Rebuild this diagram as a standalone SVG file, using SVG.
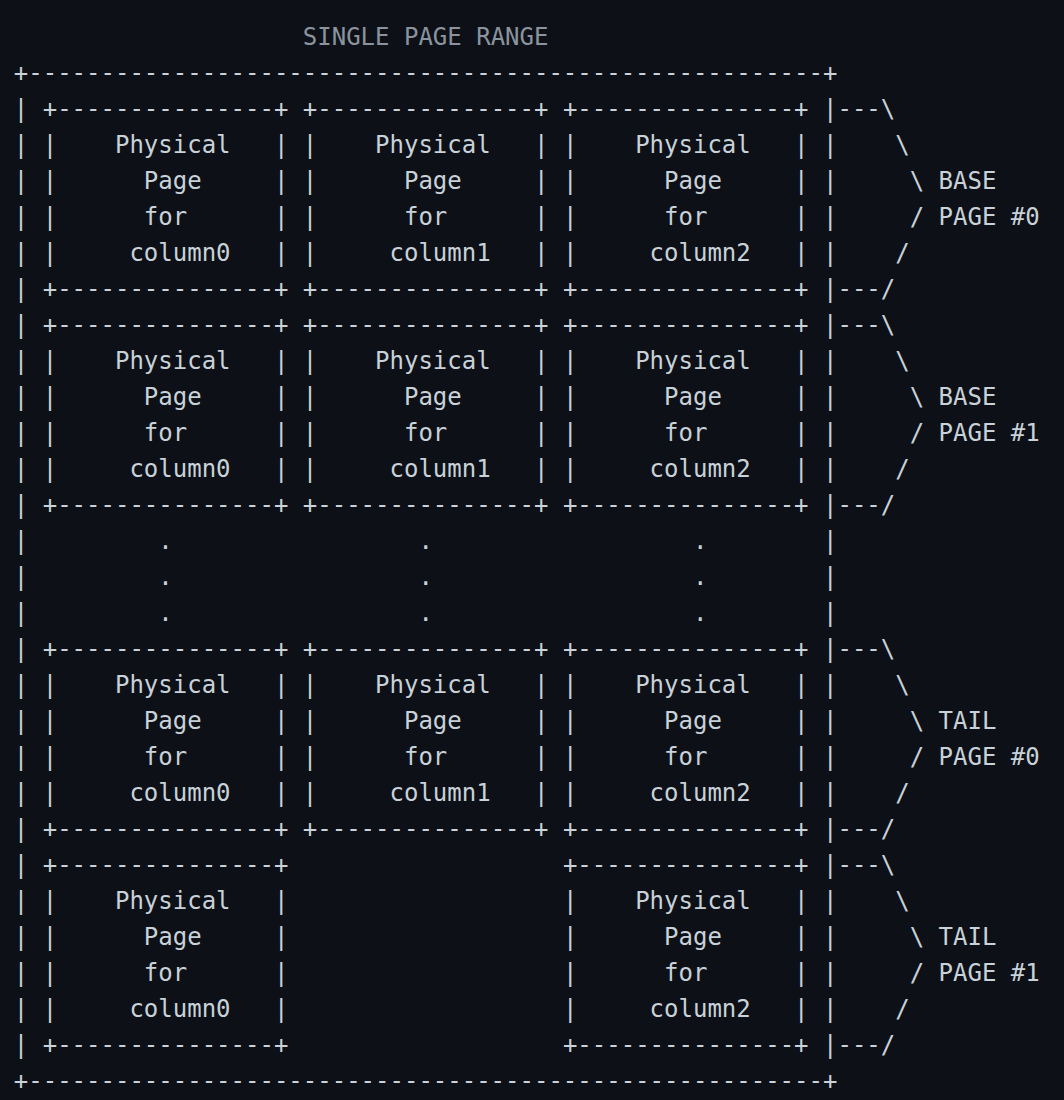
<svg xmlns="http://www.w3.org/2000/svg" width="1064" height="1100" viewBox="0 0 1064 1100" xml:space="preserve">
<style>
.t{font-family:"DejaVu Sans Mono","Liberation Mono",monospace;font-size:24px;fill:#c9d1d9;white-space:pre}
.title{fill:#8b949e}
</style>
<defs>
<g id="boxframe"><text class="t"><tspan x="0" y="0">+---------------+</tspan><tspan x="0" y="180">+---------------+</tspan></text></g>
</defs>
<rect width="1064" height="1100" fill="#0d1117"/>
<g id="diagram" transform="translate(0,1.5)">
<g id="title"><text class="t title" x="302.8" y="43">SINGLE PAGE RANGE</text></g>
<g id="range-frame"><text class="t"><tspan x="13.8" y="79">+-------------------------------------------------------+</tspan><tspan x="13.8" y="1087">+-------------------------------------------------------+</tspan><tspan x="13.8" y="115">|</tspan><tspan x="13.8" y="151">|</tspan><tspan x="13.8" y="187">|</tspan><tspan x="13.8" y="223">|</tspan><tspan x="13.8" y="259">|</tspan><tspan x="13.8" y="295">|</tspan><tspan x="13.8" y="331">|</tspan><tspan x="13.8" y="367">|</tspan><tspan x="13.8" y="403">|</tspan><tspan x="13.8" y="439">|</tspan><tspan x="13.8" y="475">|</tspan><tspan x="13.8" y="511">|</tspan><tspan x="13.8" y="547">|</tspan><tspan x="13.8" y="583">|</tspan><tspan x="13.8" y="619">|</tspan><tspan x="13.8" y="655">|</tspan><tspan x="13.8" y="691">|</tspan><tspan x="13.8" y="727">|</tspan><tspan x="13.8" y="763">|</tspan><tspan x="13.8" y="799">|</tspan><tspan x="13.8" y="835">|</tspan><tspan x="13.8" y="871">|</tspan><tspan x="13.8" y="907">|</tspan><tspan x="13.8" y="943">|</tspan><tspan x="13.8" y="979">|</tspan><tspan x="13.8" y="1015">|</tspan><tspan x="13.8" y="1051">|</tspan><tspan x="823" y="115">|</tspan><tspan x="823" y="151">|</tspan><tspan x="823" y="187">|</tspan><tspan x="823" y="223">|</tspan><tspan x="823" y="259">|</tspan><tspan x="823" y="295">|</tspan><tspan x="823" y="331">|</tspan><tspan x="823" y="367">|</tspan><tspan x="823" y="403">|</tspan><tspan x="823" y="439">|</tspan><tspan x="823" y="475">|</tspan><tspan x="823" y="511">|</tspan><tspan x="823" y="547">|</tspan><tspan x="823" y="583">|</tspan><tspan x="823" y="619">|</tspan><tspan x="823" y="655">|</tspan><tspan x="823" y="691">|</tspan><tspan x="823" y="727">|</tspan><tspan x="823" y="763">|</tspan><tspan x="823" y="799">|</tspan><tspan x="823" y="835">|</tspan><tspan x="823" y="871">|</tspan><tspan x="823" y="907">|</tspan><tspan x="823" y="943">|</tspan><tspan x="823" y="979">|</tspan><tspan x="823" y="1015">|</tspan><tspan x="823" y="1051">|</tspan></text></g>

<g id="base0-column0" transform="translate(42.7,115)"><use href="#boxframe"/><text class="t"><tspan x="0" y="36">|    Physical   |</tspan><tspan x="0" y="72">|      Page     |</tspan><tspan x="0" y="108">|      for      |</tspan><tspan x="0" y="144">|     column0   |</tspan></text></g>
<g id="base0-column1" transform="translate(302.8,115)"><use href="#boxframe"/><text class="t"><tspan x="0" y="36">|    Physical   |</tspan><tspan x="0" y="72">|      Page     |</tspan><tspan x="0" y="108">|      for      |</tspan><tspan x="0" y="144">|     column1   |</tspan></text></g>
<g id="base0-column2" transform="translate(562.9,115)"><use href="#boxframe"/><text class="t"><tspan x="0" y="36">|    Physical   |</tspan><tspan x="0" y="72">|      Page     |</tspan><tspan x="0" y="108">|      for      |</tspan><tspan x="0" y="144">|     column2   |</tspan></text></g>

<g id="base1-column0" transform="translate(42.7,331)"><use href="#boxframe"/><text class="t"><tspan x="0" y="36">|    Physical   |</tspan><tspan x="0" y="72">|      Page     |</tspan><tspan x="0" y="108">|      for      |</tspan><tspan x="0" y="144">|     column0   |</tspan></text></g>
<g id="base1-column1" transform="translate(302.8,331)"><use href="#boxframe"/><text class="t"><tspan x="0" y="36">|    Physical   |</tspan><tspan x="0" y="72">|      Page     |</tspan><tspan x="0" y="108">|      for      |</tspan><tspan x="0" y="144">|     column1   |</tspan></text></g>
<g id="base1-column2" transform="translate(562.9,331)"><use href="#boxframe"/><text class="t"><tspan x="0" y="36">|    Physical   |</tspan><tspan x="0" y="72">|      Page     |</tspan><tspan x="0" y="108">|      for      |</tspan><tspan x="0" y="144">|     column2   |</tspan></text></g>

<g id="ellipsis"><text class="t"><tspan x="158.3" y="547">.</tspan><tspan x="158.3" y="583">.</tspan><tspan x="158.3" y="619">.</tspan><tspan x="418.4" y="547">.</tspan><tspan x="418.4" y="583">.</tspan><tspan x="418.4" y="619">.</tspan><tspan x="692.95" y="547">.</tspan><tspan x="692.95" y="583">.</tspan><tspan x="692.95" y="619">.</tspan></text></g>

<g id="tail0-column0" transform="translate(42.7,655)"><use href="#boxframe"/><text class="t"><tspan x="0" y="36">|    Physical   |</tspan><tspan x="0" y="72">|      Page     |</tspan><tspan x="0" y="108">|      for      |</tspan><tspan x="0" y="144">|     column0   |</tspan></text></g>
<g id="tail0-column1" transform="translate(302.8,655)"><use href="#boxframe"/><text class="t"><tspan x="0" y="36">|    Physical   |</tspan><tspan x="0" y="72">|      Page     |</tspan><tspan x="0" y="108">|      for      |</tspan><tspan x="0" y="144">|     column1   |</tspan></text></g>
<g id="tail0-column2" transform="translate(562.9,655)"><use href="#boxframe"/><text class="t"><tspan x="0" y="36">|    Physical   |</tspan><tspan x="0" y="72">|      Page     |</tspan><tspan x="0" y="108">|      for      |</tspan><tspan x="0" y="144">|     column2   |</tspan></text></g>

<g id="tail1-column0" transform="translate(42.7,871)"><use href="#boxframe"/><text class="t"><tspan x="0" y="36">|    Physical   |</tspan><tspan x="0" y="72">|      Page     |</tspan><tspan x="0" y="108">|      for      |</tspan><tspan x="0" y="144">|     column0   |</tspan></text></g>
<g id="tail1-column2" transform="translate(562.9,871)"><use href="#boxframe"/><text class="t"><tspan x="0" y="36">|    Physical   |</tspan><tspan x="0" y="72">|      Page     |</tspan><tspan x="0" y="108">|      for      |</tspan><tspan x="0" y="144">|     column2   |</tspan></text></g>

<g id="connectors">
<g id="brace-base0" transform="translate(837.45,115)"><text class="t"><tspan x="0" y="0">---\</tspan><tspan x="0" y="36">    \</tspan><tspan x="0" y="72">     \ BASE</tspan><tspan x="0" y="108">     / PAGE #0</tspan><tspan x="0" y="144">    /</tspan><tspan x="0" y="180">---/</tspan></text></g>
<g id="brace-base1" transform="translate(837.45,331)"><text class="t"><tspan x="0" y="0">---\</tspan><tspan x="0" y="36">    \</tspan><tspan x="0" y="72">     \ BASE</tspan><tspan x="0" y="108">     / PAGE #1</tspan><tspan x="0" y="144">    /</tspan><tspan x="0" y="180">---/</tspan></text></g>
<g id="brace-tail0" transform="translate(837.45,655)"><text class="t"><tspan x="0" y="0">---\</tspan><tspan x="0" y="36">    \</tspan><tspan x="0" y="72">     \ TAIL</tspan><tspan x="0" y="108">     / PAGE #0</tspan><tspan x="0" y="144">    /</tspan><tspan x="0" y="180">---/</tspan></text></g>
<g id="brace-tail1" transform="translate(837.45,871)"><text class="t"><tspan x="0" y="0">---\</tspan><tspan x="0" y="36">    \</tspan><tspan x="0" y="72">     \ TAIL</tspan><tspan x="0" y="108">     / PAGE #1</tspan><tspan x="0" y="144">    /</tspan><tspan x="0" y="180">---/</tspan></text></g>
</g>
</g>
</svg>
